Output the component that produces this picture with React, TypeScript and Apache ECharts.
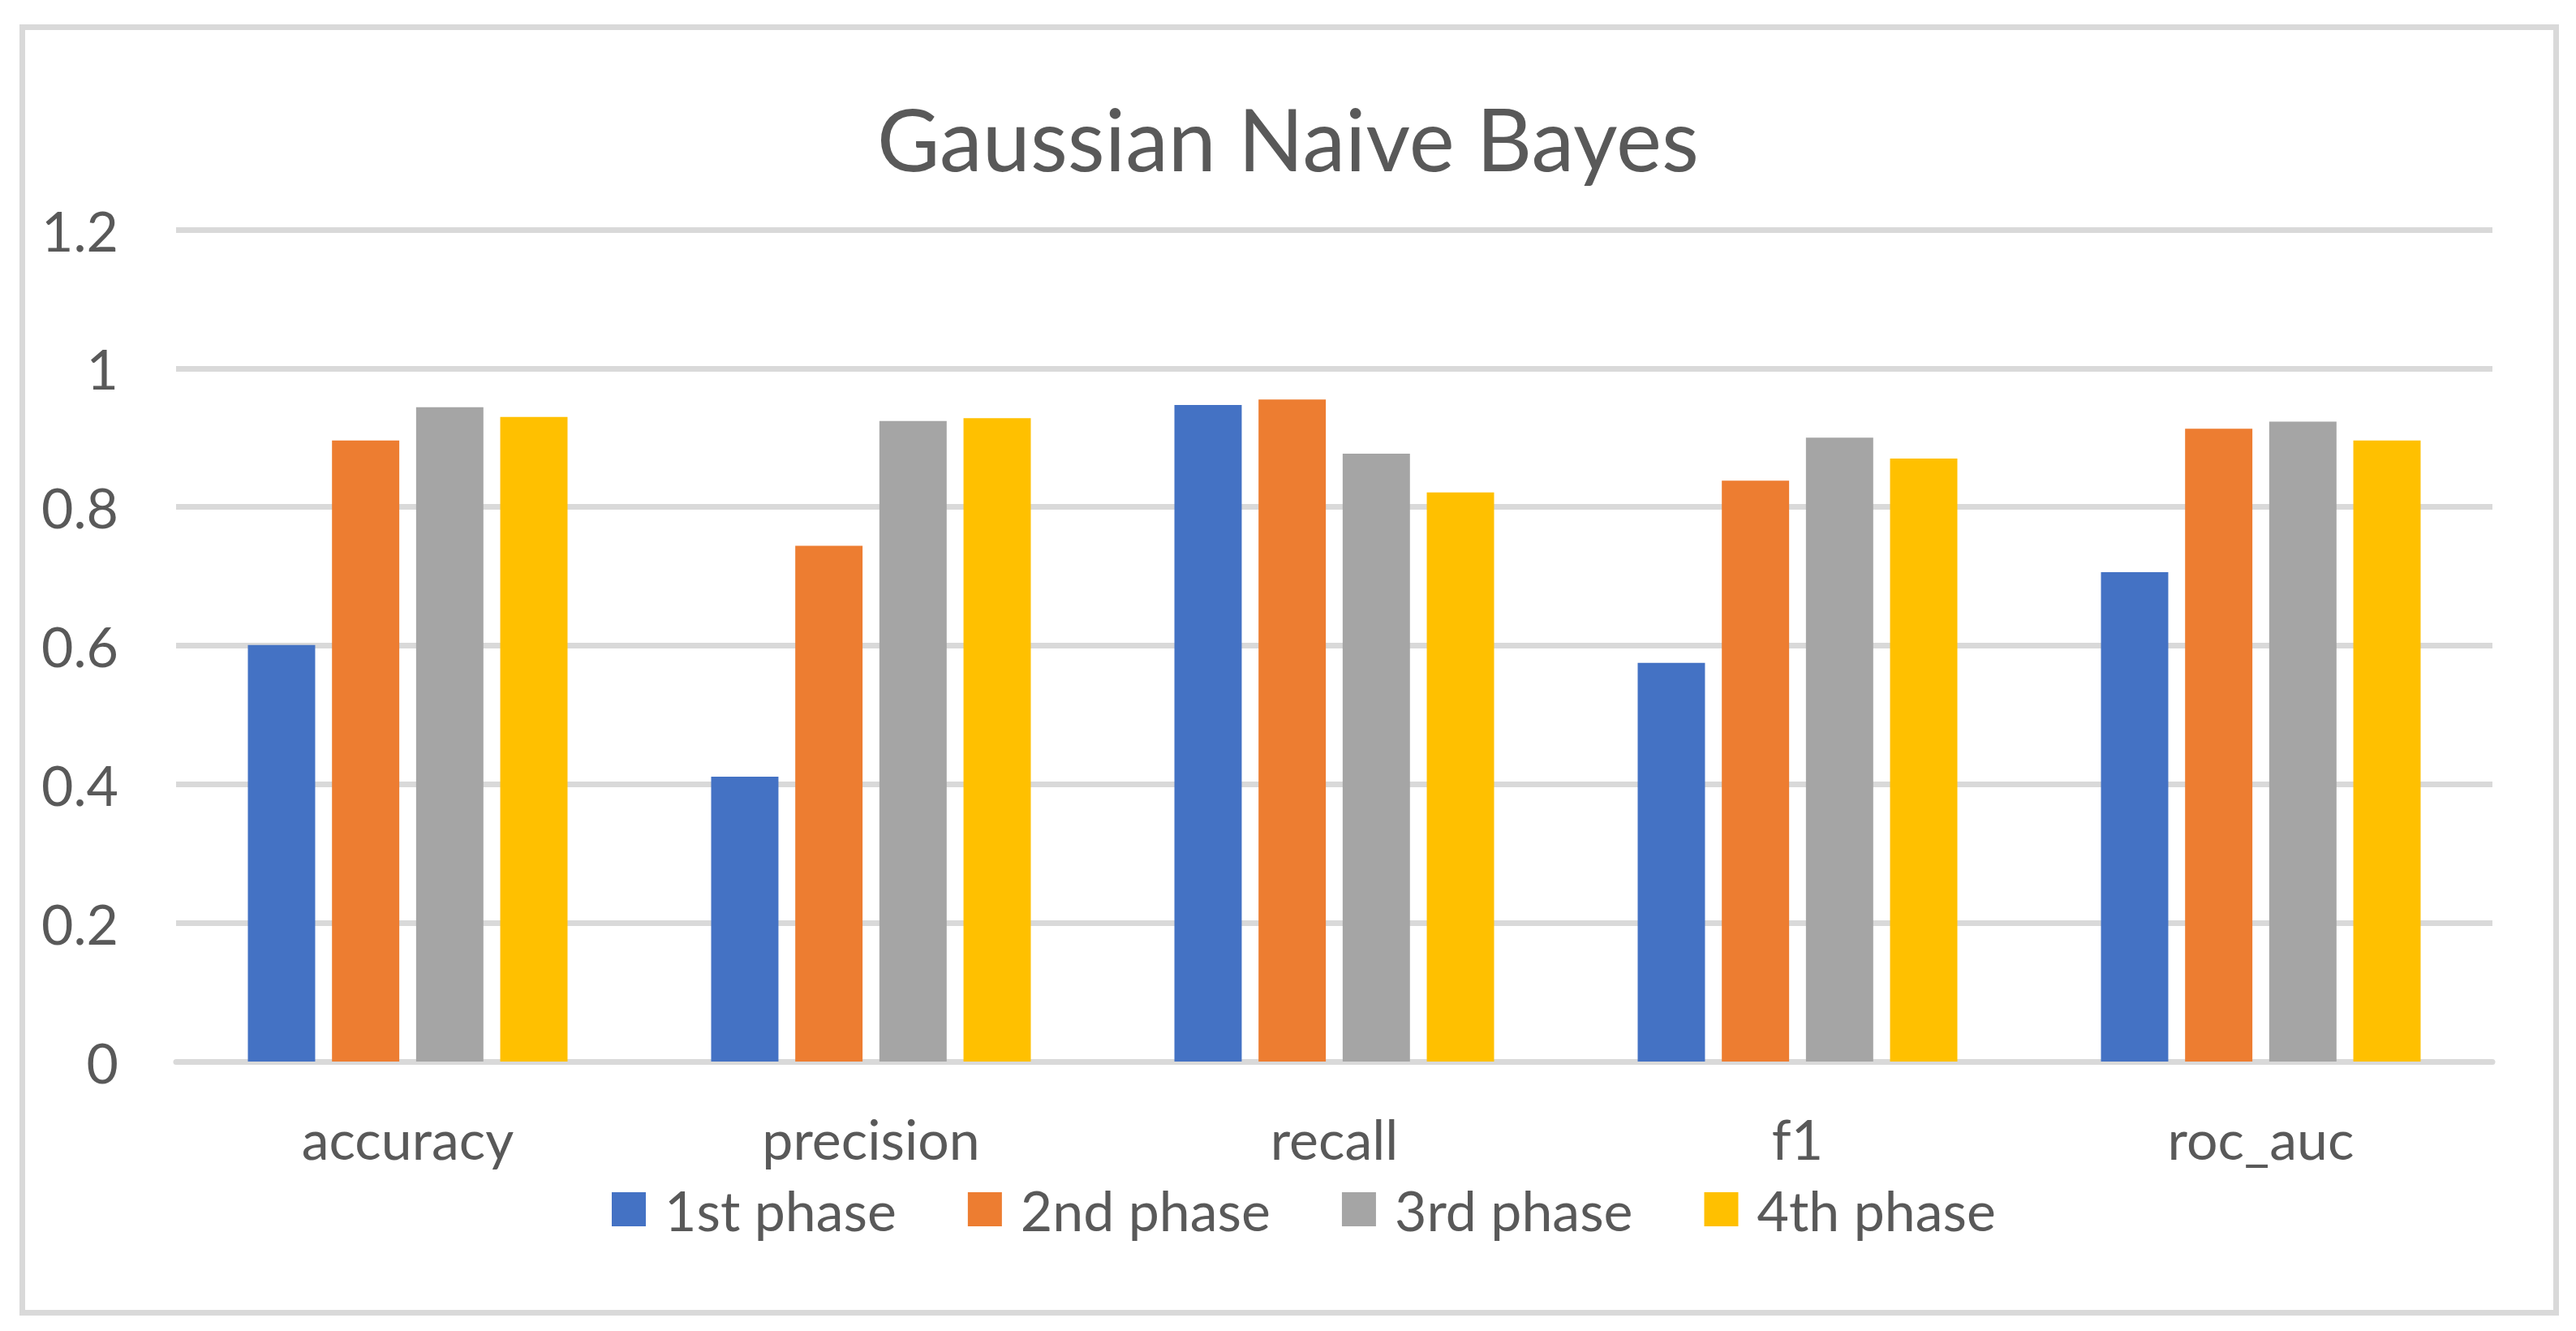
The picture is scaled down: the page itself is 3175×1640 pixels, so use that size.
import React, { useEffect, useRef } from "react";
import * as echarts from "echarts";

const titleText = "Gaussian Naive Bayes";
const categories = ["accuracy", "precision", "recall", "f1", "roc_auc"];
const seriesNames = ["1st phase", "2nd phase", "3rd phase", "4th phase"];
const phase1 = [0.601, 0.411, 0.947, 0.575, 0.706];
const phase2 = [0.896, 0.744, 0.955, 0.838, 0.913];
const phase3 = [0.944, 0.924, 0.877, 0.9, 0.923];
const phase4 = [0.93, 0.928, 0.821, 0.87, 0.896];
const colors = ["#4472C4", "#ED7D31", "#A5A5A5", "#FFC000"];

const W = 3175;
const H = 1640;
const FONT = "Lato";
const TEXT = "#595959";
const GRID = "#D9D9D9";

export default function App() {
  const ref = useRef<HTMLDivElement>(null);
  useEffect(() => {
    if (!ref.current) return;
    const chart = echarts.init(ref.current, null, { renderer: "svg" });
    const data = [phase1, phase2, phase3, phase4];
    chart.setOption({
      animation: false,
      backgroundColor: "#ffffff",
      textStyle: { fontFamily: FONT, color: TEXT },
      title: {
        text: titleText,
        left: "center",
        top: 112,
        textStyle: { fontFamily: FONT, fontSize: 106, fontWeight: "normal", color: TEXT },
      },
      grid: { left: 217, right: 103, top: 283, bottom: 332, containLabel: false },
      legend: {
        data: seriesNames,
        left: 754,
        top: 1456,
        padding: 0,
        itemWidth: 42,
        itemHeight: 42,
        itemGap: 88,
        icon: "rect",
        textStyle: { fontFamily: FONT, fontSize: 68, color: TEXT, padding: [0, 0, 0, 18] },
      },
      xAxis: {
        type: "category",
        data: categories,
        axisLine: { show: true, lineStyle: { color: GRID, width: 7 } },
        axisTick: { show: false },
        axisLabel: { fontFamily: FONT, fontSize: 68, color: TEXT, margin: 60 },
      },
      yAxis: {
        type: "value",
        min: 0,
        max: 1.2,
        interval: 0.2,
        axisLine: { show: false },
        axisTick: { show: false },
        splitLine: { show: true, lineStyle: { color: GRID, width: 7 } },
        axisLabel: { fontFamily: FONT, fontSize: 68, color: TEXT, margin: 71 },
      },
      series: seriesNames.map((name, i) => ({
        name,
        type: "bar",
        data: data[i],
        barGap: "25%",
        barCategoryGap: "31%",
        itemStyle: { color: colors[i] },
      })),
      graphic: [
        {
          type: "rect",
          shape: { x: 27.5, y: 33.5, width: 3123, height: 1584 },
          style: { fill: "none", stroke: GRID, lineWidth: 7 },
          silent: true,
        },
      ],
    });
    return () => chart.dispose();
  }, []);
  return (
    <div
      ref={ref}
      style={{ position: "absolute", left: 0, top: 0, width: W, height: H }}
    />
  );
}
